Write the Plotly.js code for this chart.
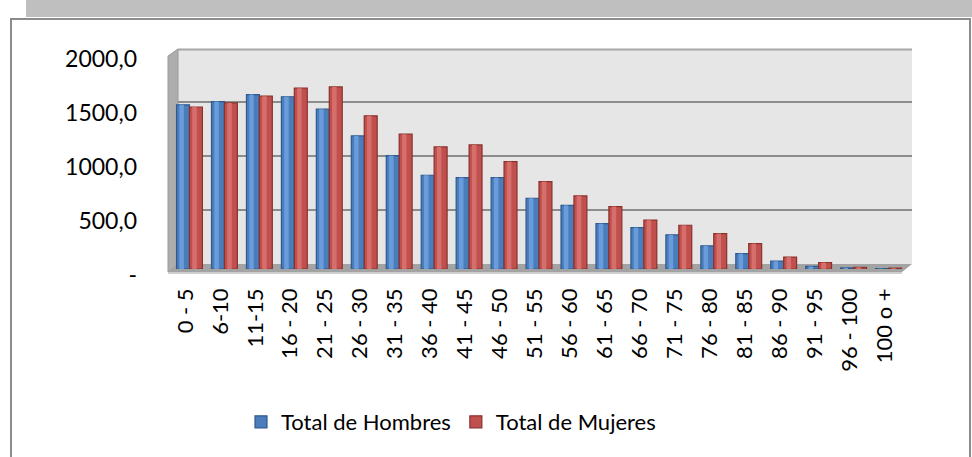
<!DOCTYPE html>
<html><head><meta charset="utf-8">
<script src="https://cdn.plot.ly/plotly-3.0.1.min.js"></script>
<style>html,body{margin:0;padding:0;background:#fff;}#chart{width:972px;height:457px;}</style>
</head><body><div id="chart"></div>
<script>
const categories = ['0 - 5','6-10','11-15','16 - 20','21 - 25','26 - 30','31 - 35','36 - 40','41 - 45','46 - 50','51 - 55','56 - 60','61 - 65','66 - 70','71 - 75','76 - 80','81 - 85','86 - 90','91 - 95','96 - 100','100 o +'];
const hombres = [1520,1550,1615,1595,1480,1232,1050,868,846,846,655,590,420,383,316,214,142,72,24,10,4];
const mujeres = [1500,1538,1600,1674,1686,1418,1248,1130,1149,994,809,677,578,452,405,328,235,110,60,16,8];
const yTickValues = [0,500,1000,1500,2000];
const yTickLabels = ['-','500,0','1000,0','1500,0','2000,0'];
const seriesNames = ['Total de Hombres','Total de Mujeres'];

const PL=172, PR=906, PT=49, PB=269;
const px = x => (x-PL)/(PR-PL);
const py = y => (PB-y)/(PB-PT);
const yMax = 2000*(PB-PT)/216;
const backShift = 5*yMax/(PB-PT);

const BW = 0.37;
function cyl(name, vals, side, base, edge, hi, legend){
  const off = side<0 ? -BW : 0;
  return [
    {type:'bar', name:name, x:categories, y:vals, offset:off, width:BW,
     marker:{color:base, line:{color:edge, width:1.2}}, showlegend:legend, hoverinfo:'x+y'},
    {type:'bar', name:name+' hi', x:categories, y:vals, offset:off+0.08, width:0.13,
     marker:{color:hi, line:{width:0}}, showlegend:false, hoverinfo:'skip'}
  ];
}
const traces = [
  ...cyl(seriesNames[0], hombres, -1, '#4A7DBB', '#2F5A8E', '#6A9BDA', true),
  ...cyl(seriesNames[1], mujeres, 1, '#C0504D', '#8A302D', '#D66E6B', true)
];

const shapes = [
  {type:'rect', xref:'paper', yref:'paper', x0:px(26), x1:px(972), y0:py(17), y1:py(0), fillcolor:'#BFBFBF', line:{width:0}, layer:'below'},
  {type:'rect', xref:'paper', yref:'paper', x0:px(178), x1:px(912), y0:py(264), y1:py(49), fillcolor:'#E6E6E6', line:{width:0}, layer:'below'},
  {type:'line', xref:'paper', yref:'paper', x0:px(178), x1:px(912), y0:py(49.5), y1:py(49.5), line:{color:'#A6A6A6', width:2}, layer:'below'},
  {type:'path', xref:'paper', yref:'paper', path:`M ${px(168)},${py(56)} L ${px(178)},${py(49)} L ${px(178)},${py(264)} L ${px(168)},${py(272)} Z`, fillcolor:'#ADADAD', line:{color:'#999999', width:1}, layer:'below'},
  {type:'path', xref:'paper', yref:'paper', path:`M ${px(168)},${py(272)} L ${px(178)},${py(264)} L ${px(912)},${py(264)} L ${px(902)},${py(272)} Z`, fillcolor:'#A3A3A3', line:{width:0}, layer:'below'},
  {type:'rect', xref:'paper', yref:'paper', x0:px(168), x1:px(902), y0:py(274), y1:py(272), fillcolor:'#CFCFCF', line:{width:0}, layer:'below'},
  {type:'rect', xref:'paper', yref:'paper', x0:px(11), x1:px(970), y0:py(458), y1:py(19), fillcolor:'rgba(0,0,0,0)', line:{color:'#8C8C8C', width:2}}
];
[500,1000,1500].forEach(v=>{
  shapes.push({type:'line', xref:'paper', yref:'y', x0:px(178), x1:px(912), y0:v+backShift, y1:v+backShift, line:{color:'#8C8C8C', width:2}, layer:'below'});
});

const layout = {
  width:972, height:457,
  margin:{l:PL, r:972-PR, t:PT, b:457-PB, pad:0},
  paper_bgcolor:'#FFFFFF', plot_bgcolor:'rgba(0,0,0,0)',
  barmode:'overlay',
  font:{family:'Lato, sans-serif', color:'#000000'},
  xaxis:{type:'category', range:[-0.5,20.5], tickangle:-90, tickfont:{family:'Lato', size:22, color:'#000'},
         showgrid:false, showline:false, zeroline:false, ticks:'', ticklabelstandoff:14, ticklabelshift:-4, fixedrange:true},
  yaxis:{range:[0,yMax], tickvals:yTickValues, ticktext:yTickLabels, tickfont:{family:'Lato', size:23, color:'#000'},
         showgrid:false, zeroline:false, showline:false, ticks:'', ticklabelstandoff:34, ticklabelshift:6, fixedrange:true},
  legend:{orientation:'h', x:px(451), xanchor:'center', y:py(422), yanchor:'middle', font:{family:'Lato', size:22, color:'#000'}, bgcolor:'rgba(0,0,0,0)'},
  shapes:shapes,
  showlegend:true
};
Plotly.newPlot('chart', traces, layout, {displayModeBar:false, staticPlot:true});
</script></body></html>
